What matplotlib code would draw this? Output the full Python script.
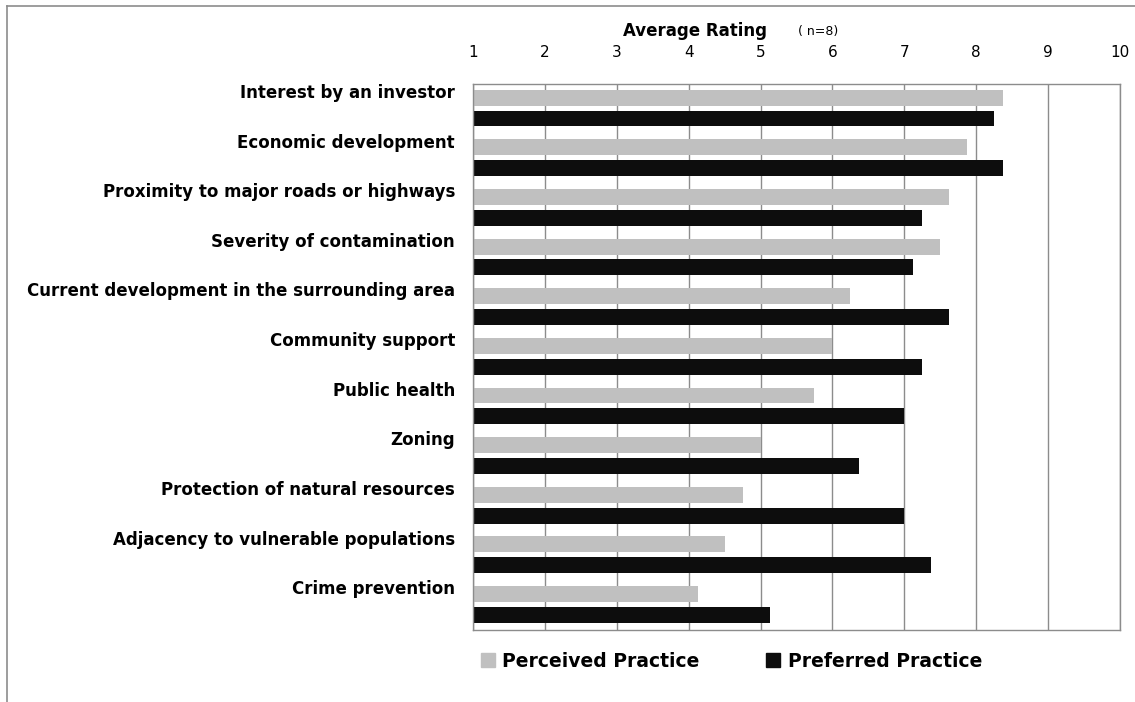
import matplotlib
matplotlib.use('Agg')
import matplotlib.pyplot as plt
from matplotlib.lines import Line2D
from matplotlib.patches import Patch
import numpy as np

plt.rcParams['font.family'] = ['DejaVu Sans']

#################### DATA ##############################
categories = ['Interest by an investor',
              'Economic development',
              'Proximity to major roads or highways',
              'Severity of contamination',
              'Current development in the surrounding area',
              'Community support',
              'Public health',
              'Zoning',
              'Protection of natural resources',
              'Adjacency to vulnerable populations',
              'Crime prevention']
perceived = [8.375, 7.875, 7.625, 7.5, 6.25, 6.0, 5.75, 5.0, 4.75, 4.5, 4.125]
preferred = [8.25, 8.375, 7.25, 7.125, 7.625, 7.25, 7.0, 6.375, 7.0, 7.375, 5.125]
xticks = [1, 2, 3, 4, 5, 6, 7, 8, 9, 10]

#################### PLOT ##############################
fig = plt.figure(figsize=(11.35, 7.02), dpi=100)
ax = fig.add_axes([473/1135, 1-630/702, (1120-473)/1135, (630-84)/702])

y = np.arange(len(categories))
h = 0.32
ax.barh(y - 0.225, np.array(perceived) - 1, left=1, height=h,
        color='#c0c0c0', zorder=2)
ax.barh(y + 0.195, np.array(preferred) - 1, left=1, height=h,
        color='#0d0d0d', zorder=2)

ax.set_xlim(1, 10)
ax.set_ylim(len(categories) - 0.5, -0.5)
ax.set_xticks(xticks)
ax.xaxis.tick_top()
ax.tick_params(axis='x', length=0, pad=17, labelsize=11)
ax.set_yticks(y - 0.36)
ax.set_yticklabels(categories, fontweight='bold', fontsize=12)
ax.tick_params(axis='y', length=0, pad=13)
ax.grid(axis='x', color='#8c8c8c', lw=1, zorder=1)
for s in ax.spines.values():
    s.set_color('#8c8c8c')
    s.set_linewidth(1)

fig.text(623/1135, 1-31/702, 'Average Rating', fontweight='bold',
         fontsize=12, ha='left', va='center')
fig.text(798/1135, 1-32/702, '( n=8)', fontsize=9, ha='left', va='center')

handles = [Patch(color='#c0c0c0'), Patch(color='#0d0d0d')]
ax.legend(handles, ['Perceived Practice', 'Preferred Practice'],
          loc='upper left', bbox_to_anchor=(0.0, -0.026), ncol=2,
          frameon=False, prop={'weight': 'bold', 'size': 13.5},
          handlelength=0.75, handleheight=0.75, handletextpad=0.4,
          columnspacing=3.55, borderaxespad=0)

# outer chart frame
fig.add_artist(Line2D([7/1135, 7/1135], [0, 1-6/702], color='#8c8c8c', lw=1.2))
fig.add_artist(Line2D([7/1135, 1], [1-6/702, 1-6/702], color='#8c8c8c', lw=1.2))

fig.savefig('out.png', dpi=100)
